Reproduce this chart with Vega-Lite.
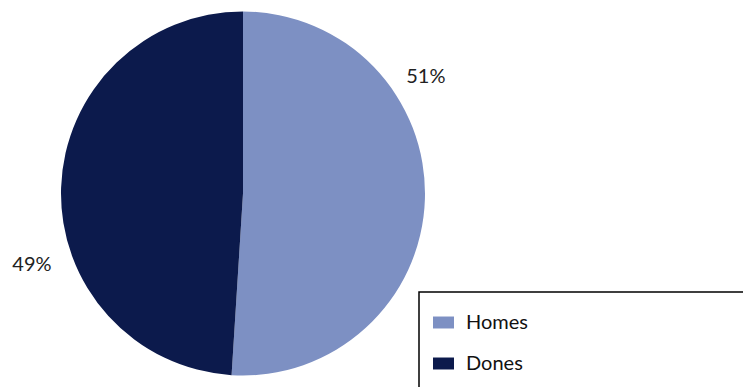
{
  "$schema": "https://vega.github.io/schema/vega-lite/v6.json",
  "width": 486,
  "height": 387,
  "autosize": {"type": "none"},
  "padding": {"left": 0, "top": 0, "right": 257, "bottom": 0},
  "background": "white",
  "config": {"view": {"stroke": null}, "font": "Lato"},
  "data": {"values": [
    {"category": "Homes", "value": 51, "order": 1, "label": "51%"},
    {"category": "Dones", "value": 49, "order": 2, "label": "49%"}
  ]},
  "encoding": {
    "theta": {"field": "value", "type": "quantitative", "stack": true},
    "order": {"field": "order", "type": "ordinal"}
  },
  "layer": [
    {
      "mark": {"type": "arc", "outerRadius": 182},
      "encoding": {
        "color": {
          "field": "category", "type": "nominal",
          "scale": {"domain": ["Homes", "Dones"], "range": ["#7d90c3", "#0c1a4c"]},
          "legend": {
            "orient": "none", "legendX": 419, "legendY": 292,
            "title": "\u2800", "titleFontSize": 6, "titlePadding": 0,
            "strokeColor": "black",
            "padding": 14, "rowPadding": 20,
            "symbolType": "M-1,-0.57H1V0.57H-1Z", "symbolSize": 441,
            "symbolStrokeWidth": 0,
            "labelFont": "Lato", "labelFontSize": 20, "labelColor": "#111",
            "labelOffset": 12, "labelLimit": 800,
            "labelExpr": "datum.label + '\u2800\u2800\u2800\u2800\u2800\u2800\u2800\u2800\u2800\u2800\u2800\u2800\u2800\u2800\u2800\u2800\u2800\u2800\u2800\u2800'",
            "encode": {"legend": {"update": {"strokeWidth": {"value": 1.5}}}}
          }
        }
      }
    },
    {
      "mark": {"type": "text", "radius": 217, "thetaOffset": -0.60, "fontSize": 20, "font": "Lato", "color": "#222"},
      "encoding": {"text": {"condition": {"test": "datum.category === 'Homes'", "field": "label"}, "value": ""}}
    },
    {
      "mark": {"type": "text", "radius": 223, "thetaOffset": -0.36, "fontSize": 20, "font": "Lato", "color": "#222"},
      "encoding": {"text": {"condition": {"test": "datum.category === 'Dones'", "field": "label"}, "value": ""}}
    }
  ]
}
